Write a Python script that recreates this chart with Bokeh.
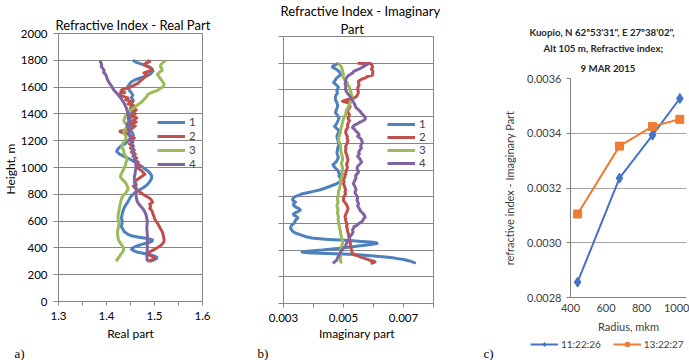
from bokeh.plotting import figure
from bokeh.models import (FixedTicker, PrintfTickFormatter, CustomJSTickFormatter, Title, Label,
                          Legend, LegendItem, Range1d)
from bokeh.layouts import row, column
from bokeh.embed import file_html
from bokeh.resources import INLINE

FONT = "Lato"
SERIF = "Liberation Serif"
C_BLUE, C_RED, C_GREEN, C_PURPLE = "#4F81BD", "#C0504D", "#9BBB59", "#8064A2"

# ---------------- Panel a: real part ----------------
a1_h = [1800,1785,1770,1755,1740,1720,1700,1685,1670,1655,1640,1620,1600,1580,1560,1540,1520,1500,1480,1460,
        1440,1420,1400,1380,1360,1340,1320,1300,1280,1260,1240,1220,1200,1180,1160,1140,1120,1100,1080,1060,
        1040,1020,1000,980,960,940,920,900,880,860,840,820,800,780,760,740,720,700,680,660,640,620,600,580,560,
        540,520,505,490,480,470,460,450,440,430,420,410,400,390,380,370,360,350,340,330,320,310,300]
a1_v = [1.455,1.462,1.475,1.487,1.493,1.497,1.492,1.485,1.472,1.460,1.452,1.447,1.444,1.447,1.451,1.455,1.452,1.456,1.451,1.455,
        1.450,1.454,1.449,1.452,1.447,1.451,1.448,1.452,1.449,1.454,1.456,1.451,1.445,1.440,1.430,1.424,1.421,1.427,1.438,1.450,
        1.460,1.468,1.476,1.484,1.490,1.494,1.494,1.491,1.487,1.481,1.472,1.462,1.455,1.450,1.447,1.444,1.440,1.437,1.435,1.433,1.432,1.431,1.433,1.432,1.431,
        1.434,1.437,1.443,1.452,1.468,1.485,1.496,1.495,1.488,1.477,1.468,1.460,1.455,1.452,1.456,1.463,1.476,1.490,1.499,1.505,1.504,1.498,1.490]

a2_h = [1800,1790,1780,1765,1750,1735,1720,1705,1690,1675,1660,1645,1630,1615,1600,1590,1580,1570,1560,1550,
        1540,1530,1520,1505,1490,1475,1460,1445,1430,1415,1400,1385,1370,1355,1340,1325,1310,1295,1280,1270,
        1260,1250,1235,1220,1205,1190,1175,1160,1145,1130,1115,1100,1085,1070,1055,1040,1025,1010,995,980,
        965,950,935,920,905,890,875,860,845,830,815,800,785,770,755,740,725,710,695,680,665,650,635,620,
        600,580,560,540,520,500,480,460,440,425,410,395,380,365,355,345,335,325,315,305,300]
a2_v = [1.485,1.490,1.482,1.478,1.488,1.495,1.490,1.478,1.485,1.480,1.475,1.470,1.466,1.458,1.450,1.440,1.432,1.430,1.438,1.428,
        1.425,1.435,1.445,1.440,1.455,1.445,1.458,1.450,1.462,1.455,1.460,1.452,1.463,1.455,1.462,1.452,1.460,1.455,1.440,1.428,
        1.433,1.445,1.450,1.458,1.447,1.455,1.448,1.456,1.450,1.458,1.452,1.460,1.455,1.463,1.458,1.466,1.462,1.470,1.465,1.472,
        1.476,1.480,1.474,1.468,1.462,1.458,1.462,1.456,1.460,1.465,1.470,1.476,1.483,1.490,1.494,1.496,1.490,1.492,1.490,1.494,1.496,1.497,1.499,1.500,
        1.503,1.507,1.510,1.513,1.516,1.518,1.519,1.520,1.519,1.515,1.510,1.503,1.495,1.488,1.486,1.490,1.497,1.500,1.497,1.490,1.485]

a3_h = [1800,1785,1770,1755,1740,1725,1710,1695,1680,1665,1650,1635,1620,1605,1590,1575,1560,1545,1530,1515,
        1500,1485,1470,1455,1440,1425,1410,1395,1380,1365,1350,1335,1320,1305,1290,1275,1260,1245,1230,1215,
        1200,1185,1170,1155,1140,1125,1110,1095,1080,1065,1050,1035,1020,1005,990,975,960,945,930,915,
        900,885,870,855,840,825,810,795,780,765,750,735,720,700,680,660,640,620,600,580,560,540,520,500,
        480,460,440,420,400,385,370,355,340,325,310,300]
a3_v = [1.523,1.518,1.514,1.512,1.515,1.516,1.510,1.506,1.509,1.512,1.515,1.518,1.520,1.518,1.512,1.506,1.494,1.486,1.484,1.480,
        1.476,1.472,1.466,1.460,1.455,1.449,1.445,1.441,1.439,1.437,1.436,1.438,1.442,1.443,1.440,1.436,1.436,1.438,1.441,1.440,
        1.438,1.435,1.433,1.432,1.434,1.436,1.436,1.438,1.441,1.443,1.442,1.440,1.440,1.438,1.436,1.434,1.432,1.430,1.429,1.432,
        1.436,1.440,1.442,1.444,1.445,1.443,1.440,1.436,1.433,1.431,1.430,1.429,1.428,1.427,1.426,1.425,1.424,1.424,1.425,1.426,1.425,1.424,1.423,1.423,
        1.424,1.425,1.428,1.432,1.435,1.436,1.434,1.430,1.428,1.425,1.422,1.420]

a4_h = [1800,1785,1770,1755,1740,1725,1710,1695,1680,1665,1650,1635,1620,1605,1590,1575,1560,1545,1530,1515,
        1500,1485,1470,1455,1440,1425,1410,1395,1380,1365,1350,1335,1320,1305,1290,1275,1260,1245,1230,1215,
        1200,1185,1170,1155,1140,1125,1110,1095,1080,1065,1050,1035,1020,1005,990,975,960,945,930,915,
        900,880,860,840,820,800,780,760,740,720,700,680,660,640,620,600,550,500,450,400,350,300]
a4_v = [1.387,1.388,1.390,1.389,1.392,1.395,1.394,1.398,1.400,1.401,1.403,1.405,1.408,1.411,1.413,1.416,1.420,1.424,1.427,1.430,
        1.433,1.436,1.438,1.440,1.442,1.443,1.444,1.445,1.446,1.445,1.447,1.445,1.443,1.444,1.446,1.447,1.446,1.448,1.449,1.451,
        1.452,1.452,1.454,1.455,1.455,1.456,1.457,1.457,1.458,1.459,1.460,1.461,1.461,1.462,1.461,1.460,1.460,1.459,1.458,1.458,
        1.459,1.460,1.461,1.462,1.462,1.461,1.462,1.463,1.465,1.469,1.474,1.478,1.481,1.483,1.484,1.485,1.484,1.485,1.485,1.485,1.484,1.485]

# ---------------- Panel b: imaginary part ----------------
b1_h = [1800,1790,1780,1770,1760,1748,1730,1715,1700,1685,1670,1655,1640,1622,1605,1590,1578,1560,1545,1526,
        1510,1490,1474,1455,1430,1410,1390,1378,1360,1340,1326,1310,1295,1281,1265,1250,1230,1210,1195,1178,
        1160,1145,1133,1115,1096,1080,1065,1050,1040,1030,1015,1000,985,970,955,940,925,910,895,880,
        865,850,840,830,820,810,800,790,780,770,760,750,740,730,720,710,700,690,680,670,
        660,650,640,630,615,600,590,575,563,550,541,530,520,510,500,490,485,480,475,470,
        465,460,455,450,445,440,430,420,410,400,395,390,385,380,377,373,368,363,355,348,
        340,330,320,312,305,300]
b1_v = [0.00483,0.00475,0.00465,0.00463,0.00472,0.00480,0.00488,0.00490,0.00483,0.00475,0.00472,0.00467,0.00475,0.00483,0.00480,0.00478,0.00480,0.00475,0.00473,0.00473,
        0.00477,0.00480,0.00480,0.00477,0.00473,0.00480,0.00485,0.00483,0.00480,0.00475,0.00470,0.00478,0.00485,0.00483,0.00480,0.00478,0.00480,0.00483,0.00485,0.00483,
        0.00480,0.00480,0.00478,0.00480,0.00483,0.00480,0.00477,0.00470,0.00465,0.00467,0.00473,0.00480,0.00483,0.00487,0.00485,0.00490,0.00490,0.00487,0.00475,0.00458,
        0.00440,0.00420,0.00400,0.00380,0.00360,0.00350,0.00338,0.00333,0.00330,0.00332,0.00340,0.00335,0.00333,0.00336,0.00343,0.00352,0.00356,0.00350,0.00340,0.00333,
        0.00336,0.00345,0.00348,0.00342,0.00338,0.00335,0.00328,0.00325,0.00323,0.00328,0.00330,0.00338,0.00350,0.00362,0.00375,0.00395,0.00420,0.00450,0.00490,0.00530,
        0.00560,0.00590,0.00610,0.00612,0.00600,0.00585,0.00550,0.00510,0.00470,0.00430,0.00400,0.00370,0.00362,0.00380,0.00420,0.00470,0.00520,0.00560,0.00600,0.00640,
        0.00670,0.00700,0.00718,0.00730,0.00737,0.00735]

b2_h = [1800,1798,1797,1785,1770,1755,1740,1725,1711,1700,1690,1680,1665,1652,1637,1620,1600,1585,1570,1555,
        1540,1530,1522,1515,1510,1504,1490,1475,1460,1445,1430,1415,1400,1385,1370,1356,1340,1325,1310,1295,
        1281,1265,1250,1235,1220,1207,1190,1175,1160,1145,1133,1120,1105,1090,1075,1059,1045,1030,1015,1000,
        985,970,955,940,925,910,896,880,865,850,835,822,805,790,770,755,740,725,710,696,
        680,665,650,635,622,605,590,575,560,548,530,515,504,490,475,460,445,430,415,400,
        390,378,365,355,345,338,330,322,318,312,306,300]
b2_v = [0.00547,0.00570,0.00590,0.00595,0.00597,0.00593,0.00598,0.00597,0.00597,0.00580,0.00573,0.00560,0.00550,0.00550,0.00552,0.00548,0.00547,0.00550,0.00548,0.00545,
        0.00535,0.00520,0.00505,0.00497,0.00505,0.00517,0.00520,0.00522,0.00518,0.00513,0.00515,0.00520,0.00518,0.00515,0.00520,0.00517,0.00513,0.00515,0.00512,0.00508,
        0.00507,0.00510,0.00513,0.00512,0.00515,0.00513,0.00510,0.00507,0.00508,0.00507,0.00507,0.00510,0.00512,0.00513,0.00515,0.00513,0.00510,0.00512,0.00513,0.00510,
        0.00508,0.00507,0.00505,0.00503,0.00500,0.00502,0.00500,0.00503,0.00505,0.00507,0.00505,0.00507,0.00503,0.00500,0.00500,0.00505,0.00510,0.00513,0.00515,0.00513,
        0.00510,0.00507,0.00505,0.00507,0.00507,0.00510,0.00512,0.00510,0.00513,0.00513,0.00515,0.00517,0.00517,0.00520,0.00520,0.00522,0.00523,0.00523,0.00525,0.00527,
        0.00528,0.00530,0.00535,0.00550,0.00560,0.00570,0.00580,0.00590,0.00600,0.00605,0.00600,0.00590]

b3_h = [1800,1785,1770,1755,1748,1730,1715,1700,1689,1670,1652,1635,1620,1600,1580,1560,1545,1526,1510,1495,
        1480,1467,1450,1430,1415,1400,1385,1370,1356,1340,1325,1310,1295,1281,1265,1250,1230,1215,1200,1185,
        1170,1156,1140,1125,1110,1095,1081,1065,1050,1030,1015,1000,985,970,955,940,925,910,896,880,
        865,850,835,822,805,790,775,760,748,730,715,700,690,674,660,645,630,615,600,585,
        570,555,540,526,510,495,480,465,452,440,425,410,395,378,360,345,330,319,310,300]
b3_v = [0.00483,0.00488,0.00493,0.00495,0.00497,0.00498,0.00500,0.00498,0.00500,0.00505,0.00513,0.00515,0.00520,0.00522,0.00525,0.00527,0.00528,0.00530,0.00525,0.00520,
        0.00517,0.00515,0.00510,0.00508,0.00507,0.00503,0.00500,0.00498,0.00497,0.00495,0.00493,0.00492,0.00490,0.00490,0.00487,0.00485,0.00483,0.00485,0.00488,0.00490,
        0.00490,0.00490,0.00492,0.00493,0.00495,0.00497,0.00497,0.00495,0.00493,0.00495,0.00497,0.00497,0.00495,0.00497,0.00495,0.00493,0.00490,0.00490,0.00490,0.00488,
        0.00487,0.00485,0.00483,0.00483,0.00482,0.00480,0.00480,0.00482,0.00480,0.00478,0.00480,0.00482,0.00480,0.00480,0.00482,0.00483,0.00482,0.00483,0.00483,0.00485,
        0.00487,0.00488,0.00490,0.00490,0.00492,0.00493,0.00495,0.00497,0.00497,0.00495,0.00493,0.00492,0.00490,0.00490,0.00490,0.00490,0.00490,0.00490,0.00492,0.00490]

b4_h = [1800,1790,1780,1770,1760,1750,1740,1726,1715,1705,1690,1674,1660,1645,1630,1615,1600,1585,1570,1555,
        1540,1525,1510,1495,1474,1460,1452,1440,1425,1410,1400,1390,1378,1365,1356,1345,1335,1326,1318,1305,
        1290,1281,1265,1252,1240,1225,1207,1195,1178,1165,1150,1133,1120,1104,1090,1075,1059,1045,1030,1015,
        1000,985,970,955,940,925,910,896,880,865,850,835,822,805,790,775,760,745,730,715,
        700,685,674,659,645,637,625,610,598,585,575,563,550,535,526,510,495,480,465,450,
        440,430,415,400,385,370,355,340,326,315,305,300]
b4_v = [0.00583,0.00578,0.00570,0.00563,0.00555,0.00545,0.00535,0.00530,0.00522,0.00515,0.00510,0.00507,0.00508,0.00505,0.00508,0.00507,0.00507,0.00510,0.00515,0.00520,
        0.00525,0.00530,0.00533,0.00537,0.00540,0.00545,0.00550,0.00555,0.00560,0.00567,0.00570,0.00573,0.00572,0.00562,0.00553,0.00545,0.00535,0.00533,0.00530,0.00537,
        0.00542,0.00547,0.00552,0.00547,0.00555,0.00560,0.00563,0.00560,0.00557,0.00560,0.00555,0.00550,0.00553,0.00547,0.00552,0.00557,0.00560,0.00555,0.00548,0.00545,
        0.00547,0.00550,0.00545,0.00540,0.00542,0.00538,0.00535,0.00533,0.00537,0.00540,0.00542,0.00538,0.00540,0.00545,0.00547,0.00545,0.00548,0.00550,0.00547,0.00552,
        0.00555,0.00560,0.00565,0.00570,0.00572,0.00568,0.00565,0.00560,0.00550,0.00545,0.00535,0.00533,0.00530,0.00532,0.00530,0.00525,0.00520,0.00518,0.00515,0.00510,
        0.00508,0.00507,0.00500,0.00495,0.00490,0.00487,0.00483,0.00480,0.00478,0.00472,0.00467,0.00465]

# ---------------- Panel c: Kuopio ----------------
radius = [440, 676, 862, 1016]
imag_1122 = [0.002856, 0.003236, 0.003393, 0.003527]
imag_1322 = [0.003105, 0.003353, 0.003425, 0.003451]
series_labels = ["1", "2", "3", "4"]
c_labels = ["11:22:26", "13:22:27"]
c_title = ["Kuopio, N 62º53'31\", E 27º38'02\",", "Alt 105 m, Refractive index;", "9 MAR 2015"]


def base_fig(w, h, left, right, top, bottom, xr, yr):
    p = figure(width=w, height=h, x_range=Range1d(*xr), y_range=Range1d(*yr),
               output_backend="svg", toolbar_location=None,
               min_border_left=left, min_border_right=right,
               min_border_top=top, min_border_bottom=bottom)
    p.frame_align = False
    p.background_fill_color = "white"
    p.border_fill_color = "white"
    p.xgrid.visible = False
    for ax in (p.xaxis[0], p.yaxis[0]):
        ax.major_label_text_font = FONT
        ax.axis_label_text_font = FONT
        ax.axis_label_text_font_style = "normal"
        ax.minor_tick_line_color = None
        ax.major_tick_in = 0
    return p


def title(p, text, place, size, align="center", offset=0, standoff=0, font=FONT,
          bold=False, color="#000000", lh=1.2):
    p.add_layout(Title(text=text, align=align, offset=offset, standoff=standoff,
                       text_font=font, text_font_size=size, text_color=color,
                       text_font_style="bold" if bold else "normal",
                       text_line_height=lh), place)


def profile_panel(p, data, colors, ticks_x, minor_x, fmt, legend_xy, spacing):
    p.outline_line_color = "#868686"
    p.ygrid.grid_line_color = "#868686"
    p.yaxis.ticker = FixedTicker(ticks=list(range(0, 2001, 200)))
    p.xaxis.ticker = FixedTicker(ticks=ticks_x, minor_ticks=minor_x)
    p.xaxis.formatter = PrintfTickFormatter(format=fmt)
    for ax in (p.xaxis[0], p.yaxis[0]):
        ax.axis_line_color = "#868686"
        ax.major_tick_line_color = "#868686"
        ax.major_label_text_font_size = "11.5px"
        ax.major_label_text_color = "#000000"
        ax.axis_label_text_font_size = "12px"
        ax.axis_label_text_color = "#000000"
    p.yaxis.major_tick_out = 5
    p.yaxis.major_label_standoff = 6
    p.xaxis.major_tick_out = 4
    p.xaxis.minor_tick_line_color = "#868686"
    p.xaxis.minor_tick_out = 4
    p.xaxis.minor_tick_in = 0
    p.xaxis.major_label_standoff = 6
    items = []
    for (hh, vv), col, lbl in zip(data, colors, series_labels):
        r = p.line(vv, hh, line_color=col, line_width=3, line_join="round")
        items.append(LegendItem(label=lbl, renderers=[r]))
    leg = Legend(items=items, location=legend_xy, padding=0, margin=0,
                 border_line_color=None, background_fill_alpha=0,
                 glyph_width=28, glyph_height=10, label_height=10, spacing=spacing,
                 label_standoff=4, label_text_font=FONT, label_text_font_size="11.5px")
    p.add_layout(leg, "center")


colors = [C_BLUE, C_RED, C_GREEN, C_PURPLE]

# Panel a  (canvas x 0..240)
pa = base_fig(240, 360, 58, 38, 33, 57, (1.3, 1.6), (0, 2000))
profile_panel(pa, [(a1_h, a1_v), (a2_h, a2_v), (a3_h, a3_v), (a4_h, a4_v)], colors,
              [1.3, 1.4, 1.5, 1.6], [1.35, 1.45, 1.55], "%.1f", (99, 131), 1)
pa.xaxis.axis_label = "Real part"
pa.xaxis.axis_label_standoff = 3
title(pa, "Refractive Index - Real Part", "above", "13px", align="left", offset=-3, standoff=1)
title(pa, "Height,  m", "left", "12px", standoff=0)
title(pa, "a)", "below", "13px", align="left", offset=-44, standoff=0, font=SERIF)

# Panel b  (canvas x 240..470)
pb = base_fig(230, 360, 43, 37, 36, 54, (0.003, 0.008), (0, 2000))
profile_panel(pb, [(b1_h, b1_v), (b2_h, b2_v), (b3_h, b3_v), (b4_h, b4_v)], colors,
              [0.003, 0.005, 0.007], [0.004, 0.006, 0.008], "%.3f", (104, 134), 0)
pb.yaxis.formatter = CustomJSTickFormatter(code="return ''")
pb.yaxis.major_label_standoff = 0
pb.xaxis.axis_label = "Imaginary  part"
pb.xaxis.axis_label_standoff = 1
title(pb, "Part", "above", "13px", align="left", offset=57, standoff=0, lh=0.95)
title(pb, "Refractive Index - Imaginary", "above", "13px", align="left", offset=-3,
      standoff=0, lh=0.95)
title(pb, "b)", "below", "13px", align="left", offset=-26, standoff=0, font=SERIF)

# Panel c  (canvas x 470..689, y 0..336) + legend strip (y 336..360)
pc = base_fig(219, 336, 100, 3, 78, 39, (400, 1053.5), (0.0028, 0.0036))
pc.outline_line_color = None
pc.ygrid.grid_line_color = "#a6a6a6"
pc.yaxis.ticker = FixedTicker(ticks=[0.0028, 0.0030, 0.0032, 0.0034, 0.0036])
pc.xaxis.ticker = FixedTicker(ticks=[400, 600, 800, 1000])
pc.yaxis.formatter = PrintfTickFormatter(format="%.4f")
pc.xaxis.formatter = PrintfTickFormatter(format="%d")
for ax in (pc.xaxis[0], pc.yaxis[0]):
    ax.axis_line_color = "#7f7f7f"
    ax.major_tick_line_color = "#7f7f7f"
    ax.major_label_text_font_size = "11px"
    ax.major_label_text_color = "#404040"
    ax.axis_label_text_font_size = "11px"
    ax.axis_label_text_color = "#404040"
pc.yaxis.major_tick_out = 4
pc.yaxis.major_label_standoff = 5
pc.yaxis.axis_label = "refractive index - Imaginary Part"
pc.yaxis.axis_label_standoff = 8
pc.xaxis.major_tick_out = 0
pc.xaxis.major_label_standoff = 6
pc.xaxis.axis_label = "Radius, mkm"
pc.xaxis.axis_label_standoff = 5
pc.line(radius, imag_1122, line_color="#4472C4", line_width=2)
pc.scatter(radius, imag_1122, marker="diamond", size=10, color="#4472C4")
pc.line(radius, imag_1322, line_color="#ED7D31", line_width=2)
pc.scatter(radius, imag_1322, marker="square", size=8, color="#ED7D31")
# title lines stacked upward from the frame
title(pc, c_title[2], "above", "9.7px", align="left", offset=10, standoff=10, bold=True,
      color="#262626", lh=1.0)
title(pc, c_title[1], "above", "9.7px", align="left", offset=-27, standoff=2, bold=True,
      color="#262626", lh=1.0)
title(pc, c_title[0], "above", "9.7px", align="left", offset=-41, standoff=2, bold=True,
      color="#262626", lh=1.0)

# legend strip for panel c (same series drawn outside its visible range, only swatches show)
lf = figure(width=219, height=24, x_range=Range1d(0, 1), y_range=Range1d(0, 1),
            output_backend="svg", toolbar_location=None, x_axis_location=None,
            y_axis_location=None, min_border_left=0, min_border_right=0,
            min_border_top=0, min_border_bottom=0)
lf.frame_align = False
lf.outline_line_color = None
lf.xgrid.visible = False
lf.ygrid.visible = False
lf.background_fill_color = "white"
lf.border_fill_color = "white"
k1 = lf.line(radius, imag_1122, line_color="#4472C4", line_width=2)
k1m = lf.scatter(radius, imag_1122, marker="diamond", size=10, color="#4472C4")
k2 = lf.line(radius, imag_1322, line_color="#ED7D31", line_width=2)
k2m = lf.scatter(radius, imag_1322, marker="square", size=8, color="#ED7D31")
legc = Legend(items=[LegendItem(label=c_labels[0], renderers=[k1, k1m]),
                     LegendItem(label=c_labels[1], renderers=[k2, k2m])],
              location=(60, 10), orientation="horizontal", padding=0, margin=0,
              border_line_color=None, background_fill_alpha=0, glyph_width=28,
              glyph_height=10, label_height=10, spacing=12, label_standoff=3,
              label_text_font=FONT, label_text_font_size="10px", label_text_color="#404040")
lf.add_layout(legc, "center")
lf.add_layout(Label(x=13, y=7, x_units="screen", y_units="screen", text="c)",
                    text_font=SERIF, text_font_size="13px", text_baseline="middle",
                    text_align="left", text_color="#000000"))

layout = row(pa, pb, column(pc, lf))
open("out.html", "w").write(file_html(layout, INLINE))
